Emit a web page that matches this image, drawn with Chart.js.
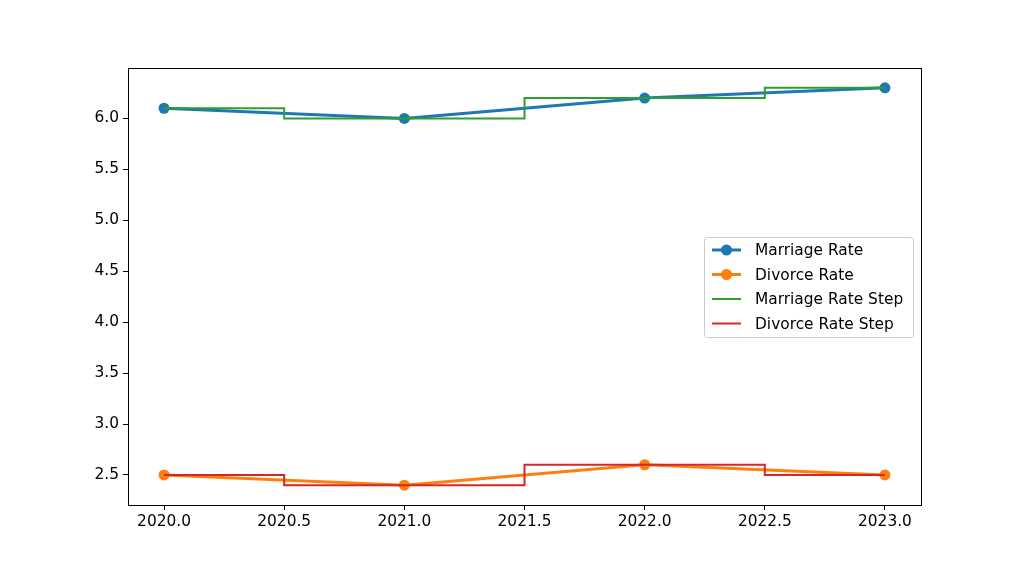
<!DOCTYPE html>
<html>
<head>
<meta charset="utf-8">
<script src="https://cdn.jsdelivr.net/npm/chart.js@4"></script>
<style>
    html, body { margin: 0; padding: 0; background: #fff; }
    #wrap { width: 1024px; height: 569px; }
</style>
</head>
<body>
<div id="wrap"><canvas id="rateChart" width="1024" height="569"></canvas></div>
<script>
// Data
const years = [2020, 2021, 2022, 2023];
const marriageRate = [6.1, 6.0, 6.2, 6.3];
const divorceRate = [2.5, 2.4, 2.6, 2.5];
const xTicks = [2020.0, 2020.5, 2021.0, 2021.5, 2022.0, 2022.5, 2023.0];
const yTicks = [2.5, 3.0, 3.5, 4.0, 4.5, 5.0, 5.5, 6.0];

const FONT = 'DejaVu Sans';
const FONT_SIZE = 15.4;

function points(values) {
    return years.map((y, i) => ({ x: y, y: values[i] }));
}

// Frame round the plot area, plus the legend box inside it
const framePlugin = {
    id: 'frame',
    afterDraw(chart) {
        const ctx = chart.ctx;
        const a = chart.chartArea;
        ctx.save();
        ctx.strokeStyle = '#000';
        ctx.lineWidth = 1;
        ctx.strokeRect(a.left + 0.5, a.top + 0.5, a.right - a.left, a.bottom - a.top);

        // legend
        const bx = 704, by = 237, bw = 209, bh = 100;
        ctx.fillStyle = 'rgba(255,255,255,0.8)';
        ctx.strokeStyle = '#cccccc';
        ctx.beginPath();
        ctx.roundRect(bx + 0.5, by + 0.5, bw, bh, 3);
        ctx.fill();
        ctx.stroke();
        ctx.font = FONT_SIZE + 'px "' + FONT + '"';
        ctx.textBaseline = 'middle';
        chart.data.datasets.forEach((ds, i) => {
            const y = by + 13 + i * 24.5;
            ctx.strokeStyle = ds.borderColor;
            ctx.lineWidth = ds.borderWidth;
            ctx.beginPath();
            ctx.moveTo(bx + 8, y);
            ctx.lineTo(bx + 37, y);
            ctx.stroke();
            if (ds.pointRadius > 0) {
                ctx.fillStyle = ds.borderColor;
                ctx.beginPath();
                ctx.arc(bx + 22.5, y, ds.pointRadius, 0, Math.PI * 2);
                ctx.fill();
            }
            ctx.fillStyle = '#000';
            ctx.fillText(ds.label, bx + 51, y + 1);
        });
        ctx.restore();
    }
};

const ctx = document.getElementById('rateChart').getContext('2d');
new Chart(ctx, {
    type: 'line',
    data: {
        datasets: [
            {
                label: 'Marriage Rate',
                data: points(marriageRate),
                borderColor: '#1f77b4',
                backgroundColor: '#1f77b4',
                borderWidth: 3,
                pointRadius: 5.5,
                pointHoverRadius: 5.5,
                pointBorderWidth: 0,
                order: 1
            },
            {
                label: 'Divorce Rate',
                data: points(divorceRate),
                borderColor: '#ff7f0e',
                backgroundColor: '#ff7f0e',
                borderWidth: 3,
                pointRadius: 5.5,
                pointHoverRadius: 5.5,
                pointBorderWidth: 0,
                order: 1
            },
            {
                label: 'Marriage Rate Step',
                data: points(marriageRate),
                borderColor: '#2ca02c',
                backgroundColor: '#2ca02c',
                borderWidth: 2,
                pointRadius: 0,
                stepped: 'middle',
                order: 0
            },
            {
                label: 'Divorce Rate Step',
                data: points(divorceRate),
                borderColor: '#d62728',
                backgroundColor: '#d62728',
                borderWidth: 2,
                pointRadius: 0,
                stepped: 'middle',
                order: 0
            }
        ]
    },
    options: {
        responsive: false,
        animation: false,
        layout: { padding: { left: 0, right: 103, top: 68, bottom: 0 } },
        plugins: {
            legend: { display: false },
            tooltip: { enabled: false }
        },
        scales: {
            x: {
                type: 'linear',
                min: 2019.85,
                max: 2023.15,
                afterBuildTicks(axis) { axis.ticks = xTicks.map(v => ({ value: v })); },
                afterFit(axis) { axis.height = 64; },
                ticks: {
                    color: '#000',
                    font: { family: FONT, size: FONT_SIZE },
                    padding: 3,
                    maxRotation: 0,
                    autoSkip: false,
                    callback: v => v.toFixed(1)
                },
                grid: { drawOnChartArea: false, drawTicks: true, tickLength: 5, color: '#000' },
                border: { display: true, color: '#000' }
            },
            y: {
                min: 2.205,
                max: 6.495,
                afterBuildTicks(axis) { axis.ticks = yTicks.map(v => ({ value: v })); },
                afterFit(axis) { axis.width = 128; },
                ticks: {
                    color: '#000',
                    font: { family: FONT, size: FONT_SIZE },
                    padding: 4,
                    autoSkip: false,
                    callback: v => v.toFixed(1)
                },
                grid: { drawOnChartArea: false, drawTicks: true, tickLength: 5, color: '#000' },
                border: { display: true, color: '#000' }
            }
        }
    },
    plugins: [framePlugin]
});
</script>
</body>
</html>
